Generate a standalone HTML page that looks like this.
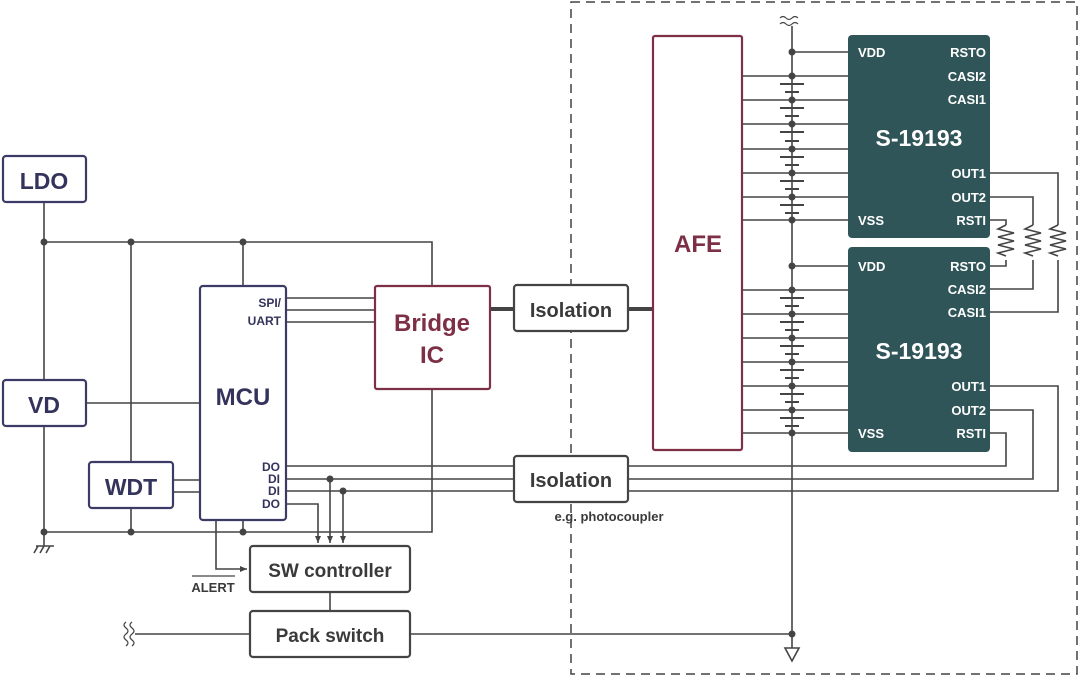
<!DOCTYPE html>
<html><head><meta charset="utf-8"><style>
html,body{margin:0;padding:0;background:#fff;}
svg{display:block;}
text{font-family:"Liberation Sans",sans-serif;font-weight:bold;}
</style></head><body>
<svg width="1080" height="677" viewBox="0 0 1080 677" xmlns="http://www.w3.org/2000/svg">
<defs>
<marker id="ar" markerWidth="8" markerHeight="8" refX="7" refY="4" orient="auto" markerUnits="userSpaceOnUse">
<path d="M0,1 L7,4 L0,7 Z" fill="#444"/></marker>
</defs>
<g fill="none" stroke="#444" stroke-width="1.6">
<!-- dashed region -->
<rect x="571" y="2" width="506" height="672" stroke-dasharray="9,6" stroke-width="1.5"/>
<!-- left rails -->
<path d="M44,202 V380 M44,426 V532 M44,242 H432 V286 M44,532 H432 V389"/>
<path d="M131,242 V462 M131,508 V532 M243,242 V286 M243,520 V532"/>
<path d="M86,403 H200 M173,480 H200 M173,492 H200"/>
<!-- ground -->
<path d="M36,546 H54 M38,546 l-4,7 M44,546 l-4,7 M50,546 l-4,7"/>
<path d="M44,532 V546"/>
<!-- SPI -->
<path d="M286,298 H375 M286,310 H375 M286,322 H375"/>
<!-- DO/DI -->
<path d="M286,466 H514 M286,479 H514 M286,491 H514"/>
<path d="M628,466 H1006 V433 H990 M628,479 H1033 V410 H990 M628,491 H1058 V386 H990"/>
<path d="M286,504 H318 V543" marker-end="url(#ar)"/>
<path d="M330,479 V543" marker-end="url(#ar)"/>
<path d="M343,491 V543" marker-end="url(#ar)"/>
<path d="M216,520 V569 H247" marker-end="url(#ar)"/>
<path d="M330,592 V611"/>
<!-- pack line -->
<path d="M135,634 H250 M410,634 H792"/>
<path d="M126,622 q-4,3 0,6 q4,3 0,6 q-4,3 0,6 q4,3 0,6 M132,622 q-4,3 0,6 q4,3 0,6 q-4,3 0,6 q4,3 0,6" stroke-width="1.2"/>
<!-- battery column -->
<path d="M792,26 V648"/>
<path d="M785,648 H799 L792,661 Z"/>
<path d="M780,18 q3,-3 6,0 q3,3 6,0 q3,-3 6,0 M780,24 q3,-3 6,0 q3,3 6,0 q3,-3 6,0" stroke-width="1.2"/>
<path d="M792,52 H848 M792,266 H848"/>
<path d="M742,76 H848 M742,100 H848 M742,124 H848 M742,149 H848 M742,173 H848 M742,197 H848 M742,220 H848"/>
<path d="M742,290 H848 M742,314 H848 M742,338 H848 M742,362 H848 M742,386 H848 M742,410 H848 M742,433 H848"/>
<!-- right side chip connections -->
<path d="M990,173 H1058 V225 M990,197 H1033 V225 M990,220 H1006 V225"/>
<path d="M990,266 H1006 V260 M990,289 H1033 V260 M990,312 H1058 V260"/>
<path d="M1006,225 l-8,4 l16,4 l-16,4 l16,4 l-16,4 l16,4 l-16,4 l8,3 M1033,225 l-8,4 l16,4 l-16,4 l16,4 l-16,4 l16,4 l-16,4 l8,3 M1058,225 l-8,4 l16,4 l-16,4 l16,4 l-16,4 l16,4 l-16,4 l8,3"/>
<!-- thick -->
<path d="M490,309 H514 M628,309 H653" stroke-width="4"/>
</g>
<!-- batteries -->
<g stroke="#444" stroke-width="2">
<path d="M780,84 H804 M785,92 H799 M780,108 H804 M785,116 H799 M780,132 H804 M785,141 H799 M780,157 H804 M785,165 H799 M780,181 H804 M785,189 H799 M780,205 H804 M785,213 H799"/>
<path d="M780,298 H804 M785,306 H799 M780,322 H804 M785,330 H799 M780,346 H804 M785,354 H799 M780,370 H804 M785,378 H799 M780,394 H804 M785,402 H799 M780,418 H804 M785,426 H799"/>
</g>
<g fill="#444">
<circle cx="44" cy="242" r="3.5"/><circle cx="131" cy="242" r="3.5"/><circle cx="243" cy="242" r="3.5"/>
<circle cx="44" cy="532" r="3.5"/><circle cx="131" cy="532" r="3.5"/><circle cx="243" cy="532" r="3.5"/>
<circle cx="330" cy="479" r="3.5"/><circle cx="343" cy="491" r="3.5"/>
<circle cx="792" cy="634" r="3.5"/>
<circle cx="792" cy="52" r="3.5"/><circle cx="792" cy="76" r="3.5"/><circle cx="792" cy="100" r="3.5"/><circle cx="792" cy="124" r="3.5"/><circle cx="792" cy="149" r="3.5"/><circle cx="792" cy="173" r="3.5"/><circle cx="792" cy="197" r="3.5"/><circle cx="792" cy="220" r="3.5"/>
<circle cx="792" cy="266" r="3.5"/><circle cx="792" cy="290" r="3.5"/><circle cx="792" cy="314" r="3.5"/><circle cx="792" cy="338" r="3.5"/><circle cx="792" cy="362" r="3.5"/><circle cx="792" cy="386" r="3.5"/><circle cx="792" cy="410" r="3.5"/><circle cx="792" cy="433" r="3.5"/>
</g>
<!-- boxes -->
<g fill="#fff" stroke="#3b3b66" stroke-width="2.2">
<rect x="3" y="156" width="83" height="46" rx="3"/>
<rect x="3" y="380" width="83" height="46" rx="3"/>
<rect x="89" y="462" width="84" height="46" rx="3"/>
<rect x="200" y="286" width="86" height="234" rx="3"/>
</g>
<g fill="#fff" stroke="#7d2f45" stroke-width="2.2">
<rect x="375" y="286" width="115" height="103" rx="2"/>
<rect x="653" y="36" width="89" height="414" rx="2"/>
</g>
<g fill="#fff" stroke="#444" stroke-width="2.2">
<rect x="514" y="285" width="114" height="46" rx="3"/>
<rect x="514" y="456" width="114" height="46" rx="3"/>
<rect x="250" y="546" width="160" height="46" rx="3"/>
<rect x="250" y="611" width="160" height="46" rx="3"/>
</g>
<rect x="848" y="35" width="142" height="203" rx="4" fill="#2f5558"/>
<rect x="848" y="247" width="142" height="205" rx="4" fill="#2f5558"/>
<!-- text -->
<g fill="#33335c" text-anchor="middle">
<text x="44" y="189" font-size="23">LDO</text>
<text x="44" y="413" font-size="23">VD</text>
<text x="131" y="495" font-size="23">WDT</text>
<text x="243" y="405" font-size="24">MCU</text>
</g>
<g fill="#33335c" text-anchor="end" font-size="12">
<text x="281" y="307">SPI/</text>
<text x="281" y="325">UART</text>
<text x="280" y="471">DO</text>
<text x="280" y="483">DI</text>
<text x="280" y="495">DI</text>
<text x="280" y="508">DO</text>
</g>
<g fill="#7d2f45" text-anchor="middle" font-size="24">
<text x="432" y="331">Bridge</text>
<text x="432" y="363">IC</text>
<text x="698" y="252">AFE</text>
</g>
<g fill="#3a3a3a" text-anchor="middle">
<text x="571" y="317" font-size="20">Isolation</text>
<text x="571" y="487" font-size="20">Isolation</text>
<text x="330" y="577" font-size="19">SW controller</text>
<text x="330" y="642" font-size="19">Pack switch</text>
<text x="609" y="521" font-size="13" font-weight="normal">e.g. photocoupler</text>
<text x="213" y="592" font-size="13">ALERT</text>
</g>
<path d="M192,576 H235" stroke="#444" stroke-width="1.3"/>
<g fill="#fff" font-size="13">
<text x="858" y="57">VDD</text>
<text x="986" y="57" text-anchor="end">RSTO</text>
<text x="986" y="81" text-anchor="end">CASI2</text>
<text x="986" y="104" text-anchor="end">CASI1</text>
<text x="919" y="146" text-anchor="middle" font-size="23">S-19193</text>
<text x="986" y="178" text-anchor="end">OUT1</text>
<text x="986" y="202" text-anchor="end">OUT2</text>
<text x="858" y="225">VSS</text>
<text x="986" y="225" text-anchor="end">RSTI</text>
<text x="858" y="271">VDD</text>
<text x="986" y="271" text-anchor="end">RSTO</text>
<text x="986" y="294" text-anchor="end">CASI2</text>
<text x="986" y="317" text-anchor="end">CASI1</text>
<text x="919" y="359" text-anchor="middle" font-size="23">S-19193</text>
<text x="986" y="391" text-anchor="end">OUT1</text>
<text x="986" y="415" text-anchor="end">OUT2</text>
<text x="858" y="438">VSS</text>
<text x="986" y="438" text-anchor="end">RSTI</text>
</g>
</svg>
</body></html>
